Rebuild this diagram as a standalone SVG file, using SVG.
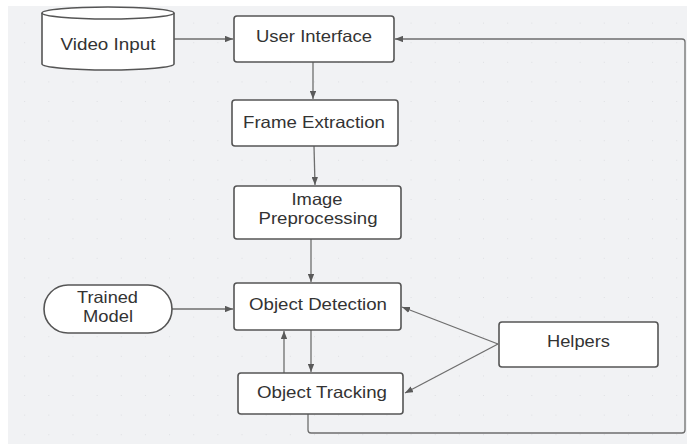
<svg xmlns="http://www.w3.org/2000/svg" width="699" height="444" viewBox="0 0 699 444">
  <style>
    .box { fill: #ffffff; stroke: #555555; stroke-width: 1.6; }
    .lbl { font-family: "Liberation Sans", Arial, sans-serif; font-size: 16.5px; fill: #333333; text-anchor: middle; }
    .edge { fill: none; stroke: #6e6e6e; stroke-width: 1.3; }
    .arr { marker-end: url(#head); }
  </style>
  <defs>
    <pattern id="dots" x="1" y="4" width="24.15" height="19.6" patternUnits="userSpaceOnUse">
      <circle cx="24.15" cy="19.6" r="0.8" fill="#c4c6ca"/>
    </pattern>
    <marker id="head" viewBox="0 0 10 8" refX="10" refY="4" markerWidth="8" markerHeight="6.4" markerUnits="userSpaceOnUse" orient="auto">
      <path d="M0,0 L10,4 L0,8 Z" fill="#5a5a5a"/>
    </marker>
  </defs>

  <!-- canvas -->
  <rect x="0" y="0" width="699" height="444" fill="#ffffff"/>
  <rect x="8" y="6" width="679" height="438" fill="#f1f2f4"/>
  <rect x="8" y="6" width="679" height="438" fill="url(#dots)"/>

  <!-- connectors -->
  <g id="connectors">
    <path class="edge arr" d="M174,39 H233"/>
    <path class="edge arr" d="M313,62 V99"/>
    <path class="edge arr" d="M314,146 L315,185"/>
    <path class="edge arr" d="M311,239 V282"/>
    <path class="edge arr" d="M172,309 H233"/>
    <path class="edge arr" d="M311,330 V372"/>
    <path class="edge arr" d="M284,373 V331"/>
    <path class="edge arr" d="M498,344 L402,307"/>
    <path class="edge arr" d="M498,344 L405,393"/>
    <path class="edge arr" d="M308,414 V430 Q308,433 311,433 H682 Q685,433 685,430 V42 Q685,39 682,39 H395"/>
  </g>

  <!-- nodes -->
  <g id="video-input">
    <path class="box" d="M42,13 A66,6 0 0 1 174,13 V64 A66,6 0 0 1 42,64 Z"/>
    <path class="box" style="fill:none" d="M42,13 A66,6 0 0 0 174,13"/>
    <text class="lbl" x="108" y="50" textLength="95" lengthAdjust="spacingAndGlyphs">Video Input</text>
  </g>

  <g id="user-interface">
    <rect class="box" x="234" y="16" width="160" height="46" rx="3"/>
    <text class="lbl" x="314" y="42" textLength="116" lengthAdjust="spacingAndGlyphs">User Interface</text>
  </g>

  <g id="frame-extraction">
    <rect class="box" x="232" y="100" width="166" height="46" rx="3"/>
    <text class="lbl" x="314" y="128" textLength="142" lengthAdjust="spacingAndGlyphs">Frame Extraction</text>
  </g>

  <g id="image-preprocessing">
    <rect class="box" x="234" y="186" width="167" height="53" rx="3"/>
    <text class="lbl" x="317" y="205" textLength="51" lengthAdjust="spacingAndGlyphs">Image</text>
    <text class="lbl" x="318" y="224" textLength="119" lengthAdjust="spacingAndGlyphs">Preprocessing</text>
  </g>

  <g id="object-detection">
    <rect class="box" x="234" y="283" width="167" height="47" rx="3"/>
    <text class="lbl" x="318" y="310" textLength="138" lengthAdjust="spacingAndGlyphs">Object Detection</text>
  </g>

  <g id="object-tracking">
    <rect class="box" x="238" y="373" width="165" height="41" rx="3"/>
    <text class="lbl" x="322" y="398" textLength="130" lengthAdjust="spacingAndGlyphs">Object Tracking</text>
  </g>

  <g id="trained-model">
    <rect class="box" x="44" y="285" width="128" height="48" rx="24"/>
    <text class="lbl" x="107.5" y="303" textLength="61" lengthAdjust="spacingAndGlyphs">Trained</text>
    <text class="lbl" x="108" y="322" textLength="50" lengthAdjust="spacingAndGlyphs">Model</text>
  </g>

  <g id="helpers">
    <rect class="box" x="499" y="322" width="159" height="45" rx="3"/>
    <text class="lbl" x="578.5" y="347" textLength="63" lengthAdjust="spacingAndGlyphs">Helpers</text>
  </g>
</svg>
